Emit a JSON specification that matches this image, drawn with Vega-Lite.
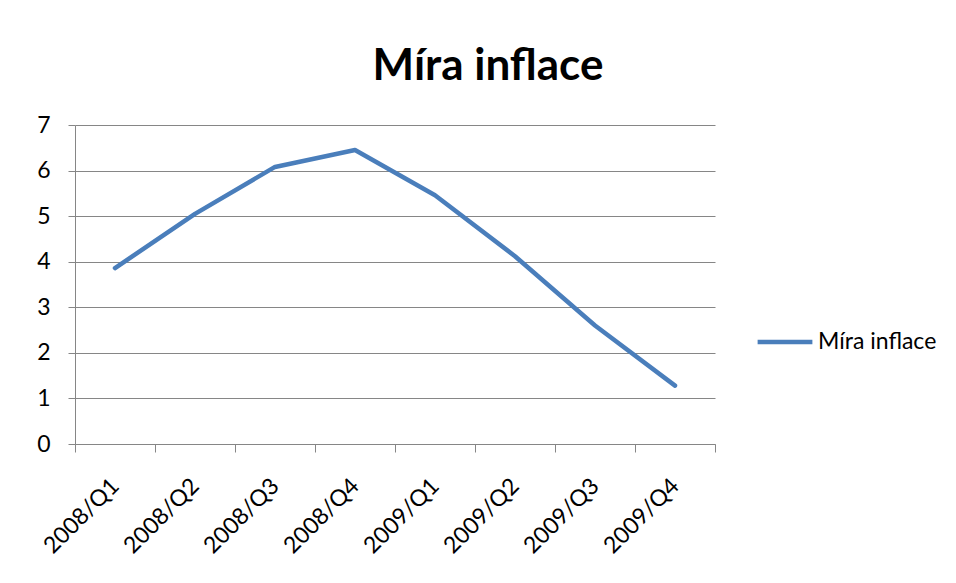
{
  "$schema": "https://vega.github.io/schema/vega-lite/v6.json",
  "autosize": {"type": "none"},
  "padding": {"left": 75, "top": 125, "right": 241, "bottom": 139},
  "width": 640,
  "height": 319,
  "background": "white",
  "title": {
    "text": "Míra inflace",
    "font": "Lato",
    "fontSize": 44,
    "fontWeight": "bold",
    "color": "black",
    "anchor": "middle",
    "dx": 93,
    "dy": 55,
    "baseline": "alphabetic",
    "offset": 45
  },
  "data": {
    "values": [
      {"q": "2008/Q1", "value": 3.86, "series": "Míra inflace"},
      {"q": "2008/Q2", "value": 5.05, "series": "Míra inflace"},
      {"q": "2008/Q3", "value": 6.08, "series": "Míra inflace"},
      {"q": "2008/Q4", "value": 6.45, "series": "Míra inflace"},
      {"q": "2009/Q1", "value": 5.46, "series": "Míra inflace"},
      {"q": "2009/Q2", "value": 4.12, "series": "Míra inflace"},
      {"q": "2009/Q3", "value": 2.6, "series": "Míra inflace"},
      {"q": "2009/Q4", "value": 1.28, "series": "Míra inflace"}
    ]
  },
  "mark": {"type": "line", "strokeWidth": 4.5, "strokeCap": "round", "strokeJoin": "round"},
  "encoding": {
    "x": {
      "field": "q",
      "type": "ordinal",
      "bandPosition": 0.5,
      "scale": {"type": "band", "paddingInner": 0, "paddingOuter": 0},
      "axis": {
        "title": null,
        "tickBand": "extent",
        "labelAngle": -45,
        "labelAlign": "right",
        "labelBaseline": "middle",
        "labelPadding": 30,
        "labelFont": "Lato",
        "labelFontSize": 23,
        "labelColor": "black",
        "domainColor": "#868686",
        "tickColor": "#868686",
        "tickSize": 8,
        "grid": false
      }
    },
    "y": {
      "field": "value",
      "type": "quantitative",
      "scale": {"domain": [0, 7], "nice": false, "zero": true},
      "axis": {
        "title": null,
        "values": [0, 1, 2, 3, 4, 5, 6, 7],
        "grid": true,
        "gridColor": "#868686",
        "domainColor": "#868686",
        "tickColor": "#868686",
        "tickSize": 7,
        "labelPadding": 18,
        "labelFont": "Lato",
        "labelFontSize": 23,
        "labelColor": "black"
      }
    },
    "color": {
      "field": "series",
      "type": "nominal",
      "scale": {"range": ["#4a7ebb"]},
      "legend": {
        "title": null,
        "orient": "none",
        "legendX": 680,
        "legendY": 187,
        "symbolType": "stroke",
        "symbolSize": 3000,
        "symbolStrokeWidth": 4.5,
        "labelFont": "Lato",
        "labelFontSize": 23,
        "labelColor": "black",
        "labelOffset": 3
      }
    }
  },
  "config": {
    "view": {"stroke": null}
  }
}
